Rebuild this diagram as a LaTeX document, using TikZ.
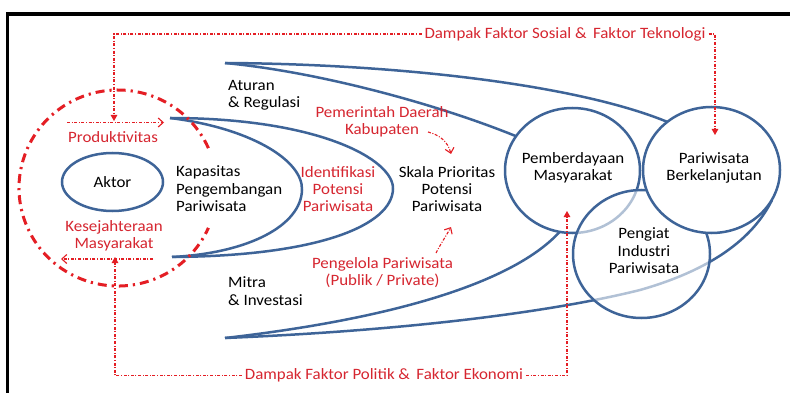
\documentclass[tikz,border=0pt]{standalone}
\usepackage{fontspec}
\setmainfont{Carlito}[FakeStretch=1.07]
\usetikzlibrary{arrows.meta,shapes.geometric}
\definecolor{bl}{RGB}{62,100,152}
\definecolor{rd}{RGB}{228,30,36}
\definecolor{rdt}{RGB}{214,38,48}
\begin{document}
\begin{tikzpicture}[x=1pt,y=-1pt,
  txt/.style={font=\fontsize{15.8}{17.4}\selectfont, align=center, inner sep=0pt, text=black},
  rtxt/.style={txt, text=rdt},
  ltxt/.style={txt, align=left, anchor=west},
  bline/.style={draw=bl, line width=2.5pt},
  circ/.style={ellipse, draw=bl, line width=2.5pt, txt},
  bigred/.style={draw=rd, line width=3pt, dash pattern=on 9pt off 5pt on 2.2pt off 5pt},
  rthin/.style={draw=rd, line width=1.1pt, dash pattern=on 3pt off 1.6pt on 1pt off 1.6pt},
  tri/.style={-{Triangle[length=6pt,width=6.5pt]}},
  barb/.style={-{Straight Barb[length=5pt,width=9pt,line width=1.1pt]}}
]
\useasboundingbox (0,0) rectangle (790,393);
\fill[white] (0,0) rectangle (790,393);
% frame
\draw[black, line width=3.6pt] (7.3,395) -- (7.3,14) -- (792,14);

% swooshes (drawn before circles)
\coordinate (t1) at (225,63);
\coordinate (t2) at (225,338);
\draw[bline] (t1) .. controls (400,64) and (580,85) .. (670,123);
\draw[bline] (t1) .. controls (320,72) and (440,105) .. (518,137);
\draw[bline] (t2) .. controls (400,318) and (520,280) .. (563,228);
\draw[bline] (t2) .. controls (420,330) and (560,310) .. (640,290)
                  .. controls (700,273) and (750,245) .. (772,200);

% loops
\coordinate (l1) at (170,118);
\coordinate (l2) at (172,257);
\draw[bline] (l1) .. controls (250,128) and (303,160) .. (302,190)
                  .. controls (301,225) and (250,253) .. (l2);
\draw[bline] (l1) .. controls (320,118) and (394,160) .. (393,189)
                  .. controls (392,225) and (320,256) .. (l2);

% circles
\node[circ, fill=white, minimum width=135pt, minimum height=125pt] (pem) at (572.5,170.5) {};
\node[circ, fill=white, fill opacity=0.6, text opacity=1, minimum width=137pt, minimum height=128pt] (peng) at (641.5,254) {};
\node[circ, fill=white, minimum width=137pt, minimum height=126pt] (pw) at (711.5,170) {};
\node[circ, minimum width=101pt, minimum height=58pt] (aktor) at (112.5,182) {Aktor};

% texts in circles
\node[txt] (pemt) at (573,168) {Pemberdayaan\\Masyarakat};
\node[txt] (pwt) at (714,168) {Pariwisata\\Berkelanjutan};
\node[txt] (pengt) at (644,251) {Pengiat\\Industri\\Pariwisata};

% other texts
\node[ltxt] (atur) at (228,95) {Aturan\\\& Regulasi};
\node[ltxt] (mitra) at (228,291) {Mitra\\\& Investasi};
\node[ltxt] (kap) at (176,189) {Kapasitas\\Pengembangan\\Pariwisata};
\node[rtxt] (ident) at (338,189) {Identifikasi\\Potensi\\Pariwisata};
\node[txt] (skala) at (447,189) {Skala Prioritas\\Potensi\\Pariwisata};
\node[rtxt] (pemda) at (382,122) {Pemerintah Daerah\\Kabupaten};
\node[rtxt] (pengel) at (382.5,272.5) {Pengelola Pariwisata\\(Publik / Private)};
\node[rtxt] (prod) at (113,137) {Produktivitas};
\node[rtxt] (kes) at (114,235.5) {Kesejahteraan\\Masyarakat};
\node[rtxt, outer sep=3pt] (dsos) at (565,34) {Dampak Faktor Sosial \& \,Faktor Teknologi};
\node[rtxt, outer sep=3pt] (dpol) at (384,375.5) {Dampak Faktor Politik \& \,Faktor Ekonomi};

% big red dash-dot circle
\coordinate (rc) at (118,188);
\draw[bigred] (rc) ++(-24:99 and 98) arc[start angle=-24, end angle=-336, x radius=99, y radius=98];

% thin red arrows
\coordinate (ptop) at (114,121);
\coordinate (pwtop) at (715,135);
\coordinate (kbot) at (115,257);
\coordinate (pembot) at (567,211);
\draw[rthin, tri] (dsos.west) -| (ptop);
\draw[rthin, tri] (dsos.east) -| (pwtop);
\draw[rthin, tri] (dpol.west) -| (kbot);
\draw[rthin, tri] (dpol.east) -| (pembot);

\coordinate (pa1) at (67,122.5);
\coordinate (pa2) at (164,122.5);
\draw[rthin, barb] (pa1) -- (pa2);
\coordinate (ka1) at (153,259);
\coordinate (ka2) at (61,259);
\draw[rthin, barb] (ka1) -- (ka2);

\coordinate (kbs) at (428,132);
\coordinate (kbt) at (451,154);
\draw[rthin, barb] (kbs) .. controls (440,135) and (448,142) .. (kbt);
\coordinate (pgs) at (436,253);
\coordinate (pgt) at (451,227);
\draw[rthin, barb] (pgs) .. controls (440,245) and (446,236) .. (pgt);
\end{tikzpicture}
\end{document}
